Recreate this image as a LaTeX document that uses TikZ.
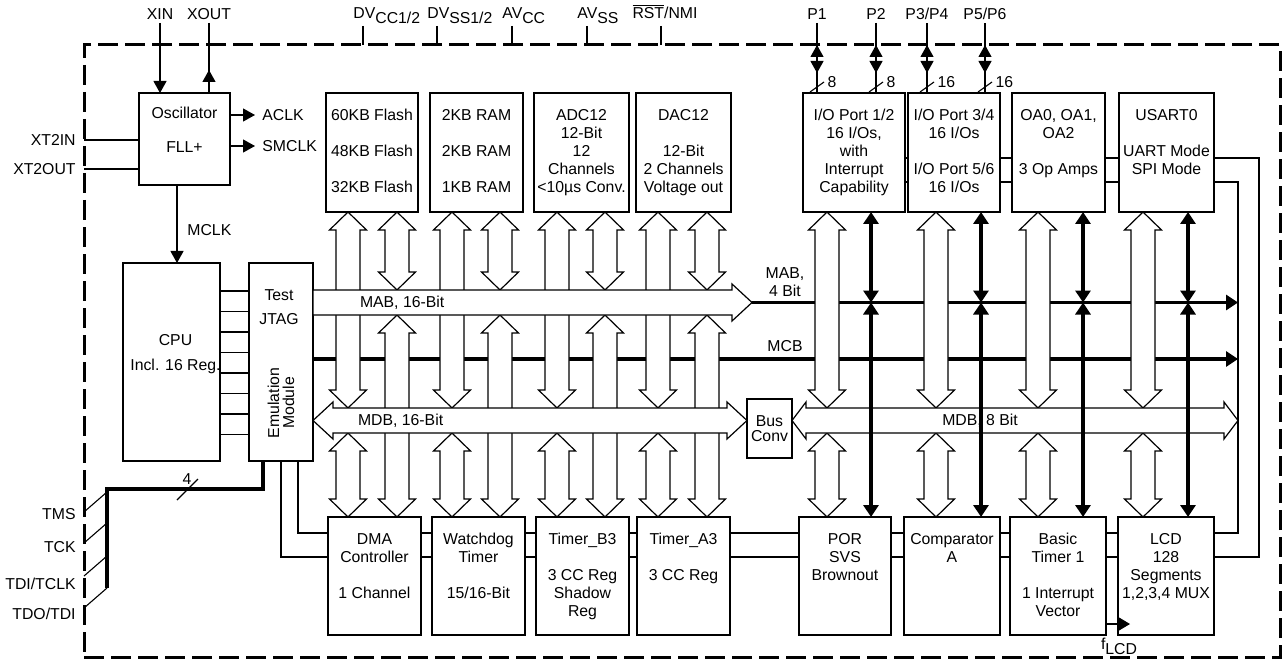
\documentclass[tikz,border=0pt]{standalone}
\usepackage{fontspec}
\setmainfont{Liberation Sans}
\usetikzlibrary{positioning, arrows.meta, calc}
\newcommand{\lfont}{\fontsize{7.9pt}{9pt}\selectfont}
\tikzset{
  blk/.style={draw, line width=1.1pt, inner sep=0pt, outer sep=0pt, minimum width=46.5pt, minimum height=59.5pt, font=\lfont, align=center},
  lowblk/.style={blk, minimum height=59pt},
  txt/.style={inner sep=0pt, outer sep=0pt, align=center, font=\lfont},
  lbl/.style={inner sep=1.5pt, font=\lfont},
  wire/.style={line width=0.55pt},
  bus/.style={line width=1.6pt},
  tip/.style={wire, -{Triangle[length=6pt, width=6.5pt]}},
  btip/.style={bus, {Triangle[length=6pt, width=7.5pt]}-{Triangle[length=6pt, width=7.5pt]}},
  hollow/.style={draw, fill=white, line width=0.6pt, line join=miter},
  border/.style={draw, dash pattern=on 10pt off 3.5pt, line width=1.5pt, inner sep=0pt, outer sep=0pt}
}
% hollow bus arrow, vertical, heads at both ends
\newcommand{\vbus}[2]{%
  \path[hollow] let \p1=(#1), \p2=(#2) in
    (\x1,\y1) -- (\x1+9.25pt,\y1-9pt) -- (\x1+6pt,\y1-9pt) -- (\x1+6pt,\y2+9pt)
    -- (\x1+9.25pt,\y2+9pt) -- (\x1,\y2) -- (\x1-9.25pt,\y2+9pt) -- (\x1-6pt,\y2+9pt)
    -- (\x1-6pt,\y1-9pt) -- (\x1-9.25pt,\y1-9pt) -- cycle;}
% hollow bus arrow, horizontal, heads at both ends
\newcommand{\hbus}[3][9pt]{%
  \path[hollow] let \p1=(#2), \p2=(#3) in
    (\x1,\y1) -- (\x1+#1,\y1+9.25pt) -- (\x1+#1,\y1+6.25pt) -- (\x2-#1,\y1+6.25pt)
    -- (\x2-#1,\y1+9.25pt) -- (\x2,\y1) -- (\x2-#1,\y1-9.25pt) -- (\x2-#1,\y1-6.25pt)
    -- (\x1+#1,\y1-6.25pt) -- (\x1+#1,\y1-9.25pt) -- cycle;}

\begin{document}
\begin{tikzpicture}[x=0.5pt, y=-0.5pt]
\fill[white] (0,0) rectangle (1284,663);
\useasboundingbox (0,0) rectangle (1284,663);

\node[border, minimum width=598pt, minimum height=306pt, anchor=north west] (bd) at (84,45) {};

% clock, cpu, emulation
\node[blk, minimum width=45.5pt, minimum height=46pt, anchor=north west] (osc) at (139,93) {};
\node[txt, below=7.2pt of osc.north] (osct) {Oscillator\\[8pt]FLL+};
\node[blk, minimum width=48.5pt, minimum height=99pt, anchor=north west] (cpu) at (123,263) {};
\node[txt, below=35.5pt of cpu.north, xshift=2pt] (cput) {CPU\\[3.5pt]Incl. 16 Reg.};
\node[blk, minimum width=32pt, minimum height=99pt, right=14.5pt of cpu] (emu) {};
\node[txt, below=13.2pt of emu.north, xshift=-1pt] (emut) {Test\\[3pt]JTAG};
\node[txt, rotate=90] (emum) at ($(emu.south)+(0,-58)$) {Emulation\\[-1.5pt]Module};

% upper modules
\node[blk, minimum width=46pt, anchor=north west] (flash) at (326,93) {};
\node[blk, right=6pt of flash] (ram) {};
\node[blk, minimum width=47.5pt, right=5.5pt of ram] (adc) {};
\node[blk, minimum width=47.5pt, right=3.5pt of adc] (dac) {};
\node[blk, minimum width=51pt, anchor=north west] (io12) at (803,93) {};
\node[blk, minimum width=46pt, right=1.5pt of io12] (io34) {};
\node[blk, right=6pt of io34] (oa) {};
\node[blk, minimum width=47.5pt, right=7pt of oa] (usart) {};

% lower modules
\node[lowblk, anchor=north west] (dma) at (328,517) {};
\node[lowblk, right=5.5pt of dma] (wdt) {};
\node[lowblk, right=5.5pt of wdt] (tb) {};
\node[lowblk, right=4pt of tb] (ta) {};
\node[lowblk, minimum width=46pt, anchor=north west] (por) at (799,517) {};
\node[lowblk, minimum width=48pt, right=6.5pt of por] (comp) {};
\node[lowblk, minimum width=48pt, right=5pt of comp] (bt) {};
\node[lowblk, minimum width=48pt, right=6pt of bt] (lcd) {};

\node[txt, below=8.2pt of flash.north] {60KB Flash\\[9pt]48KB Flash\\[9pt]32KB Flash};
\node[txt, below=8.2pt of ram.north] {2KB RAM\\[9pt]2KB RAM\\[9pt]1KB RAM};
\node[txt, below=8.2pt of adc.north] {ADC12\\12-Bit\\12\\Channels\\<10µs Conv.};
\node[txt, below=8.2pt of dac.north] {DAC12\\[9pt]12-Bit\\2 Channels\\Voltage out};
\node[txt, below=8.2pt of io12.north] {I/O Port 1/2\\16 I/Os,\\with\\Interrupt\\Capability};
\node[txt, below=8.2pt of io34.north] {I/O Port 3/4\\16 I/Os\\[9pt]I/O Port 5/6\\16 I/Os};
\node[txt, below=8.2pt of oa.north] {OA0, OA1,\\OA2\\[9pt]3 Op Amps};
\node[txt, below=8.2pt of usart.north] {USART0\\[9pt]UART Mode\\SPI Mode};
\node[txt, below=8.2pt of dma.north] {DMA\\Controller\\[9pt]1 Channel};
\node[txt, below=8.2pt of wdt.north] {Watchdog\\Timer\\[9pt]15/16-Bit};
\node[txt, below=8.2pt of tb.north] {Timer\_B3\\[9pt]3 CC Reg\\Shadow\\Reg};
\node[txt, below=8.2pt of ta.north] {Timer\_A3\\[9pt]3 CC Reg};
\node[txt, below=8.2pt of por.north] {POR\\SVS\\Brownout};
\node[txt, below=8.2pt of comp.north] {Comparator\\A};
\node[txt, below=8.2pt of bt.north] {Basic\\Timer 1\\[9pt]1 Interrupt\\Vector};
\node[txt, below=8.2pt of lcd.north] {LCD\\128\\Segments\\1,2,3,4 MUX};

\node[blk, minimum width=22.5pt, minimum height=29.5pt, anchor=north west] (bconv) at (747,399) {Bus\\[-1.5pt]Conv};

% bus lines
\coordinate (mab) at (313,302.5);
\coordinate (mabT) at (313,290);
\coordinate (mabB) at (313,315);
\coordinate (mcb) at (313,359);
\coordinate (mdb) at (313,420.5);
\coordinate (mdbT) at (313,408);
\coordinate (mdbB) at (313,433);
\coordinate (mabtip) at (752,302.5);
\coordinate (busend) at (1238,302.5);
\foreach \n/\x in {1/348, 2/397, 3/452, 4/500, 5/557, 6/605, 7/658, 8/707,
                   9/827, 10/871, 11/936, 12/981, 13/1038, 14/1083, 15/1143, 16/1188}
  \coordinate (col\n) at (\x,0);

% clock system
\node[lbl] (xin) at (160,14) {XIN};
\node[lbl] (xout) at (209,14) {XOUT};
\draw[tip] (xin.south) -- (xin.south |- osc.north);
\draw[wire] (xout.south) -- (xout.south |- osc.north);
\draw[tip] (xout.south |- osc.north) -- ++(0,-23);
\node[lbl, anchor=west] (aclk) at (259,115) {ACLK};
\node[lbl, anchor=west] (smclk) at (259,146) {SMCLK};
\draw[tip] (aclk.west -| osc.east) -- ([xshift=-2pt]aclk.west);
\draw[tip] (smclk.west -| osc.east) -- ([xshift=-2pt]smclk.west);
\node[lbl, anchor=east] (xt2in) at (79,140) {XT2IN};
\node[lbl, anchor=east] (xt2out) at (79,169) {XT2OUT};
\draw[wire] (xt2in.east -| bd.west) -- (xt2in.east -| osc.west);
\draw[wire] (xt2out.east -| bd.west) -- (xt2out.east -| osc.west);
\coordinate (mclk) at ($(osc.south)+(-7.5,0)$);
\draw[tip] (mclk) -- (mclk |- cpu.north);
\node[lbl, anchor=west] (mclkl) at (184,230) {MCLK};

% supply pins
\foreach \n/\x/\t in {dvcc/363/{DV\raisebox{-2.5pt}{CC1/2}}, dvss/437/{DV\raisebox{-2.5pt}{SS1/2}},
                      avcc/512/{AV\raisebox{-2.5pt}{CC}}, avss/587/{AV\raisebox{-2.5pt}{SS}}} {
  \coordinate (\n) at (\x,26);
  \node[lbl, anchor=base west, inner sep=0pt] (l\n) at ($(\n)+(-10,-7)$) {\t};
  \draw[wire] (\n) -- (\n |- bd.north);
}
\coordinate (rst) at (661,26);
\node[lbl, anchor=base, inner sep=0pt] (lrst) at ($(rst)+(4,-7)$) {$\overline{\mbox{RST}}$/NMI};
\draw[wire] (rst) -- (rst |- bd.north);

% port pins
\foreach \n/\x/\t/\w in {pin1/817/P1/8, pin2/876/P2/8, pin3/927/{P3/P4}/16, pin5/985/{P5/P6}/16} {
  \node[lbl] (\n) at (\x,14) {\t};
  \draw[wire] (\n.south) -- (\n.south |- io12.north);
  \draw[wire, {Triangle[length=6pt, width=6.5pt]}-{Triangle[length=6pt, width=6.5pt]}] (\n.south |- bd.north) -- ++(0,28);
  \draw[wire] ($(\n.south |- io12.north)+(-7,-1)$) -- ++(14,-10) node[lbl, right, inner sep=1.5pt] {\w};
}

% JTAG
\coordinate (jtag) at (107,489);
\draw[bus] ($(emu.south west)+(14,0)$) |- (jtag) -- ++(0,99);
\draw[wire] ($(jtag)+(70,11)$) -- ++(21,-21);
\node[lbl] (four) at (187,479) {4};
\foreach \n/\t/\y/\d in {tms/TMS/514/-2, tck/TCK/547/-4, tdi/{TDI/TCLK}/584/-8, tdo/{TDO/TDI}/614/-6} {
  \node[lbl, anchor=east] (\n) at (79,\y) {\t};
  \draw[wire] (\n.east -| bd.west) ++(0,\d) -- ++(23,-20);
}

% cpu to emulation
\foreach \i in {0,...,7}
  \draw[wire] ($(cpu.north east)+(0,28+20.5*\i)$) -- ($(emu.north west)+(0,28+20.5*\i)$);

% peripheral chain
\foreach \a/\b in {io12/io34, io34/oa, oa/usart} {
  \draw[wire] ($(\a.north east)+(0,65)$) -- ($(\b.north west)+(0,65)$);
  \draw[wire] ($(\a.north east)+(0,89)$) -- ($(\b.north west)+(0,89)$);
}
\foreach \a/\b in {dma/wdt, wdt/tb, tb/ta, ta/por, por/comp, comp/bt, bt/lcd} {
  \draw[wire] ($(\a.north east)+(0,16)$) -- ($(\b.north west)+(0,16)$);
  \draw[wire] ($(\a.north east)+(0,40)$) -- ($(\b.north west)+(0,40)$);
}
\draw[wire] ($(usart.north east)+(0,65)$) -| ($(lcd.north east)+(45,40)$) -- ($(lcd.north east)+(0,40)$);
\draw[wire] ($(usart.north east)+(0,89)$) -| ($(lcd.north east)+(24,16)$) -- ($(lcd.north east)+(0,16)$);
\draw[wire] ($(emu.south west)+(49,0)$) |- ($(dma.north west)+(0,16)$);
\draw[wire] ($(emu.south west)+(32,0)$) |- ($(dma.north west)+(0,40)$);
\draw[wire, -{Triangle[length=6pt, width=7pt]}] ($(bt.north east)+(0,107)$) -- ($(lcd.north west)+(12,107)$);
\node[lbl, anchor=base, inner sep=0pt] (flcd) at (1119,649) {f\raisebox{-2.5pt}{LCD}};

% MAB 4 bit, MCB
\draw[bus, -{Triangle[length=6pt, width=7.5pt]}] (mabtip) -- (busend);
\draw[bus, -{Triangle[length=6pt, width=7.5pt]}] (mcb) -- (mcb -| busend);

% module bus arrows
\foreach \a/\b/\t/\u in {col1/col2/flash/dma, col3/col4/ram/wdt, col5/col6/adc/tb, col7/col8/dac/ta} {
  \vbus{\a |- \t.south}{\a |- mdbT}
  \vbus{\b |- \t.south}{\b |- mabT}
  \vbus{\a |- mdbB}{\a |- \u.north}
  \vbus{\b |- mabB}{\b |- \u.north}
}
\foreach \a/\t/\u in {col9/io12/por, col11/io34/comp, col13/oa/bt, col15/usart/lcd} {
  \vbus{\a |- \t.south}{\a |- mdbT}
  \vbus{\a |- mdbB}{\a |- \u.north}
}

% MAB 16, MDB 16, MDB 8
\path[hollow] let \p1=(mab), \p2=(mabtip) in
  (\x1,\y1+6.25pt) -- (\x2-10pt,\y1+6.25pt) -- (\x2-10pt,\y1+9.25pt) -- (\x2,\y1)
  -- (\x2-10pt,\y1-9.25pt) -- (\x2-10pt,\y1-6.25pt) -- (\x1,\y1-6.25pt) -- cycle;
\hbus[10pt]{mdb}{mdb -| bconv.west}
\hbus[7pt]{mdb -| bconv.east}{mdb -| busend}

\foreach \b/\t/\u in {col10/io12/por, col12/io34/comp, col14/oa/bt, col16/usart/lcd} {
  \draw[btip] (\b |- \t.south) -- (\b |- mab);
  \draw[btip] (\b |- mab) -- (\b |- \u.north);
}

\node[txt, anchor=west] (mabl) at (360,302.5) {MAB, 16-Bit};
\node[txt, anchor=west] (mdbl) at (358,420.5) {MDB, 16-Bit};
\node[txt] (mdb8l) at (980,421) {MDB, 8 Bit};
\node[txt] (mab4l) at (785,282) {MAB,\\4 Bit};
\node[txt] (mcbl) at (785,346) {MCB};
\end{tikzpicture}
\end{document}
